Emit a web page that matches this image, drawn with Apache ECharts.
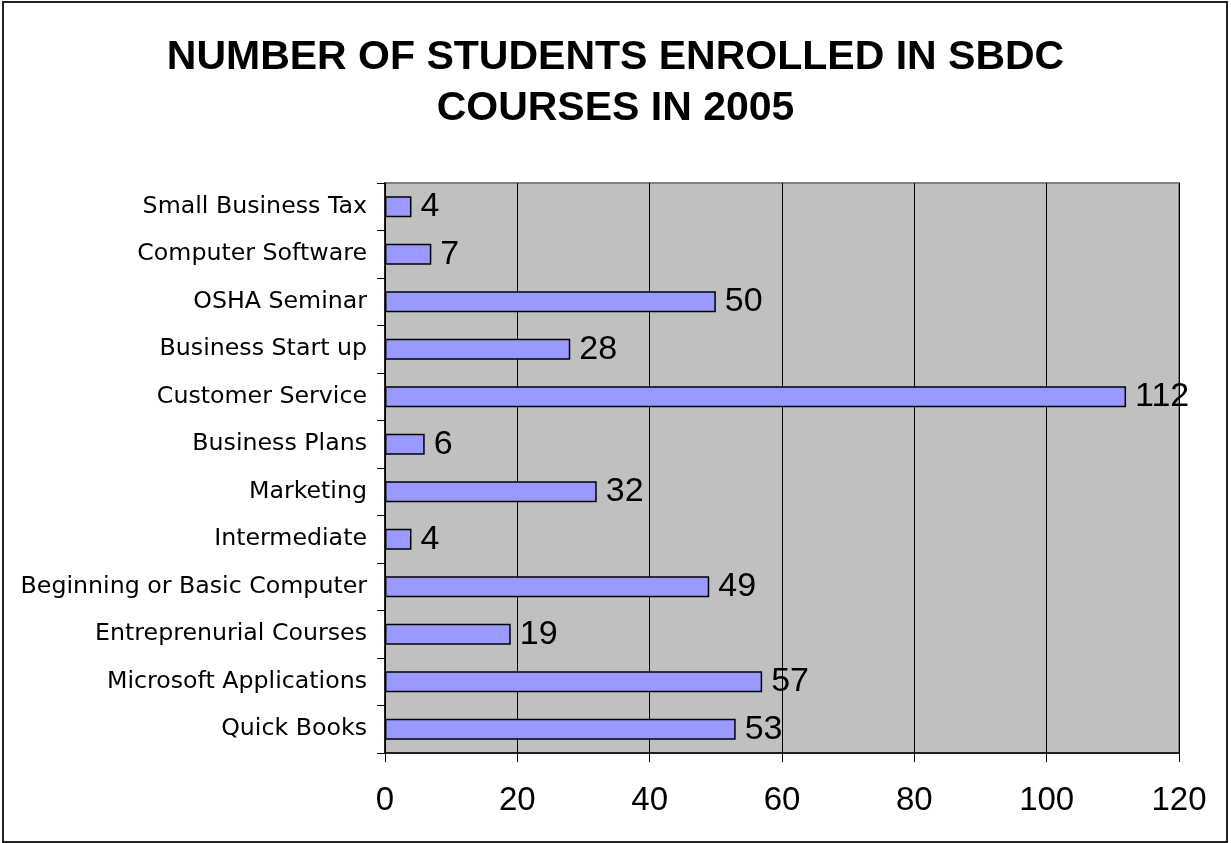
<!DOCTYPE html>
<html>
<head>
<meta charset="utf-8">
<script src="https://cdn.jsdelivr.net/npm/echarts@6/dist/echarts.min.js"></script>
<style>
html,body{margin:0;padding:0;background:#fff;}
#frame{position:absolute;left:2px;top:1px;width:1226px;height:842px;border:2px solid #222;box-sizing:border-box;}
#chart{position:absolute;left:0;top:0;width:1231px;height:843px;}
</style>
</head>
<body>
<div id="frame"></div>
<div id="chart"></div>
<script>
const categories = ["Quick Books","Microsoft Applications","Entreprenurial Courses","Beginning or Basic Computer","Intermediate","Marketing","Business Plans","Customer Service","Business Start up","OSHA Seminar","Computer Software","Small Business Tax"];
const values = [53,57,19,49,4,32,6,112,28,50,7,4];
const xTicks = [0,20,40,60,80,100,120];

const chart = echarts.init(document.getElementById('chart'), null, {renderer:'canvas'});
chart.setOption({
  animation:false,
  backgroundColor:'transparent',
  title:{
    text:'NUMBER OF STUDENTS ENROLLED IN SBDC\nCOURSES IN 2005',
    left:'center', top:27,
    textStyle:{fontFamily:'Liberation Sans, Arial, sans-serif',fontWeight:'bold',fontSize:41,color:'#000',lineHeight:51}
  },
  grid:{left:385,top:183,width:794,height:570,show:true,backgroundColor:'#c0c0c0',borderColor:'#808080',borderWidth:2},
  xAxis:{
    type:'value',min:xTicks[0],max:xTicks[xTicks.length-1],interval:20,
    axisLine:{show:true,lineStyle:{color:'#000',width:1.5}},
    axisTick:{show:true,length:9,lineStyle:{color:'#000'}},
    axisLabel:{color:'#000',fontSize:33,fontFamily:'Liberation Sans, Arial, sans-serif',margin:31},
    splitLine:{show:true,lineStyle:{color:'#000',width:1}}
  },
  yAxis:{
    type:'category',data:categories,
    axisLine:{show:true,lineStyle:{color:'#000',width:1.5}},
    axisTick:{show:true,length:8,lineStyle:{color:'#000'}},
    axisLabel:{color:'#000',fontSize:23.7,fontFamily:'DejaVu Sans, sans-serif',margin:18},
    splitLine:{show:false}
  },
  series:[{
    type:'bar',data:values,barWidth:21,
    itemStyle:{color:'#9999ff',borderColor:'#000',borderWidth:1.5},
    label:{show:true,position:'right',distance:9,color:'#000',fontSize:34,fontFamily:'Liberation Sans, Arial, sans-serif'}
  }]
});
</script>
</body>
</html>
